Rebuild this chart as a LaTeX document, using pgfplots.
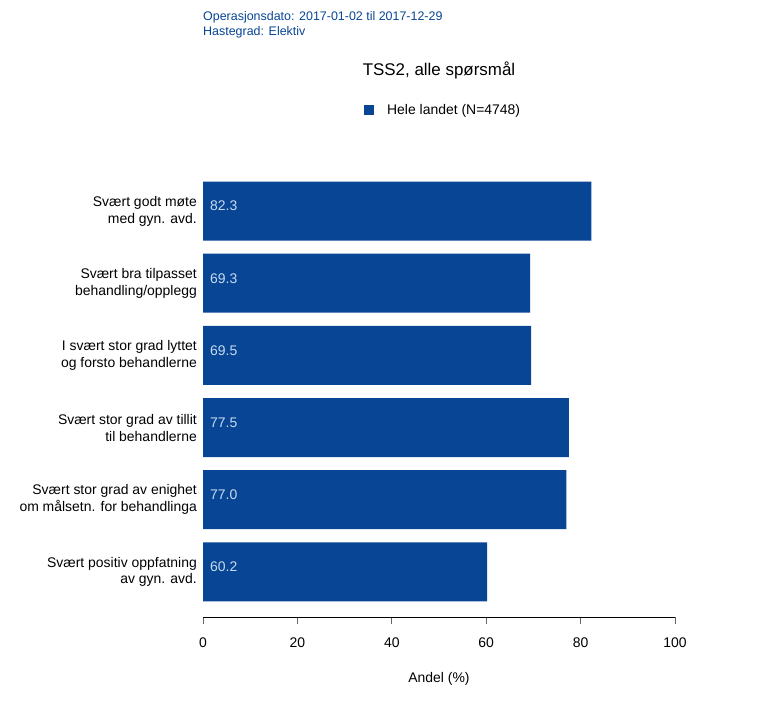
\documentclass[border=0pt]{standalone}
\usepackage{pgfplots}
\pgfplotsset{compat=1.18}
\usepackage{fontspec}
\setmainfont{Liberation Sans}
\definecolor{barblue}{HTML}{084594}
\definecolor{lblblue}{HTML}{C6DBEF}
\begin{document}
\begin{tikzpicture}[x=1bp,y=1bp]
\useasboundingbox (0,0) rectangle (760,719);
\begin{axis}[
  at={(203bp,102bp)}, anchor=south west,
  scale only axis, width=472bp, height=442bp,
  xmin=0, xmax=100, ymin=0.375, ymax=6.5,
  axis x line*=bottom, axis y line*=left,
  x axis line style={-, black, line width=0.7pt},
  y axis line style={draw=none},
  ytick={1,2,3,4,5,6},
  yticklabels={{Svært positiv oppfatning\\av gyn. avd.},
               {Svært stor grad av enighet\\om målsetn. for behandlinga},
               {Svært stor grad av tillit\\til behandlerne},
               {I svært stor grad lyttet\\og forsto behandlerne},
               {Svært bra tilpasset\\behandling/opplegg},
               {Svært godt møte\\med gyn. avd.}},
  ytick style={draw=none},
  yticklabel style={align=right, font=\fontsize{14}{17}\selectfont, inner sep=0pt, xshift=1bp},
  xtick={0,20,40,60,80,100},
  tick align=outside, major tick length=7bp,
  xtick style={color=black!60, line width=0.7pt},
  /pgf/number format/assume math mode=true,
  xticklabel style={font=\fontsize{14}{17}\selectfont, anchor=center, yshift=-19bp},
  xlabel={Andel (\%)},
  xlabel style={font=\fontsize{14}{17}\selectfont, at={(axis description cs:0.5,0)}, anchor=center, yshift=-62bp},
  legend style={draw=none, fill=none, at={(0.341,1.147)}, anchor=west, inner sep=0pt,
     font=\fontsize{14}{17}\selectfont, legend cell align=left},
  legend image code/.code={\fill[barblue, draw=none] (0bp,-4.75bp) rectangle (9.5bp,4.75bp); \path[draw=none, fill=none] (21bp,0bp) circle (0pt);},
  clip=false,
]
\addplot[xbar, bar width=59bp, fill=barblue, draw=none] coordinates {
  (60.2,1) (77.0,2) (77.5,3) (69.5,4) (69.3,5) (82.3,6)};
\addlegendentry{Hele landet (N=4748)}
\addplot[draw=none, forget plot, nodes near coords, point meta=explicit symbolic,
  every node near coord/.style={anchor=west, inner sep=0pt, xshift=7bp, yshift=5bp,
     text=lblblue, font=\fontsize{14}{17}\selectfont}]
  coordinates {(0,1) [60.2] (0,2) [77.0] (0,3) [77.5] (0,4) [69.5] (0,5) [69.3] (0,6) [82.3]};
\end{axis}
\node[anchor=base west, inner sep=0pt, text=barblue, font=\fontsize{12.5}{15}\selectfont] at (203,698) {Operasjonsdato: 2017-01-02 til 2017-12-29};
\node[anchor=base west, inner sep=0pt, text=barblue, font=\fontsize{12.5}{15}\selectfont] at (203,683) {Hastegrad: Elektiv};
\node[anchor=center, inner sep=0pt, font=\fontsize{17}{20}\selectfont] at (439,649) {TSS2, alle spørsmål};
\end{tikzpicture}
\end{document}
